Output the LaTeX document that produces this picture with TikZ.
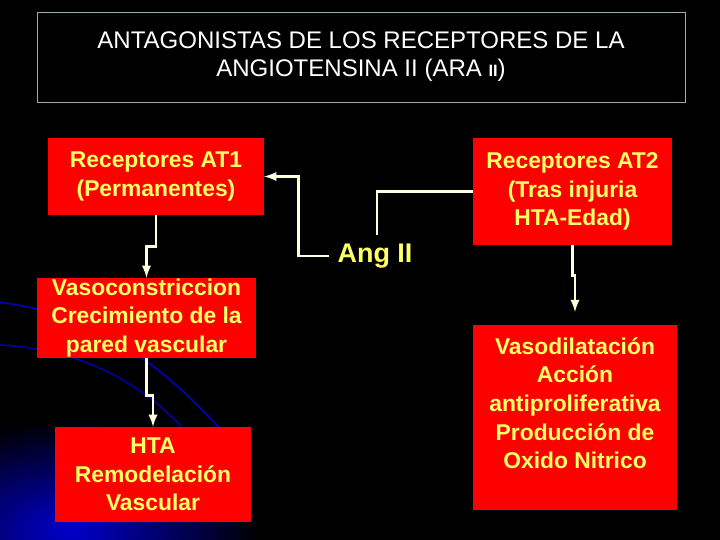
\documentclass[tikz,border=0pt]{standalone}
\usepackage{fontspec}
\setmainfont{Liberation Sans}
\usetikzlibrary{positioning}
\definecolor{txtyellow}{RGB}{255,255,102}
\definecolor{boxred}{RGB}{255,0,0}
\definecolor{linecream}{RGB}{255,255,220}
\definecolor{framegreen}{RGB}{150,180,150}
\begin{document}
\begin{tikzpicture}[x=0.03cm,y=-0.03cm,>=latex,
  redbox/.style={fill=boxred,text=txtyellow,align=center,inner sep=0pt,
    font=\fontsize{19.5}{24.5}\selectfont\bfseries},
  conn/.style={draw=linecream,line width=2.5pt}]
  % background
  \useasboundingbox (0,0) rectangle (720,540);
  \begin{scope}
    \clip (0,0) rectangle (720,540);
    \fill[black] (0,0) rectangle (720,540);
    \shade[inner color=blue!80!black,outer color=black] (-120,420) rectangle (260,640);
    \draw[blue!70!black,line width=1.5pt] (-40,300) .. controls (80,300) and (160,360) .. (230,440);
    \draw[blue!60!black,line width=1.5pt] (0,345) .. controls (100,350) and (170,400) .. (215,470);
  \end{scope}
  % nodes
  \node[draw=framegreen,fill=black,text=white,align=center,minimum width=648*0.03cm,
    minimum height=90*0.03cm,font=\fontsize{20.5}{24}\selectfont] (title) at (361,57)
    {ANTAGONISTAS DE LOS RECEPTORES DE LA\\ANGIOTENSINA II (ARA {\fontsize{14}{14}\selectfont\bfseries II})};
  \node[redbox,minimum width=216*0.03cm,minimum height=77*0.03cm] (at1) at (156,176.5)
    {Receptores AT1\\(Permanentes)};
  \node[redbox,minimum width=199*0.03cm,minimum height=107*0.03cm] (at2) at (572.5,191.5)
    {Receptores AT2\\(Tras injuria\\HTA-Edad)};
  \node[text=txtyellow,font=\fontsize{23}{23}\selectfont\bfseries,inner sep=0pt] (ang) at (375,256) {Ang II};
  \node[redbox,minimum width=219*0.03cm,minimum height=80*0.03cm] (vaso) at (146.5,318)
    {Vasoconstriccion\\Crecimiento de la\\pared vascular};
  \node[redbox,minimum width=196*0.03cm,minimum height=95*0.03cm] (hta) at (153,474.5)
    {HTA\\Remodelación\\Vascular};
  \node[redbox,minimum width=204*0.03cm,minimum height=185*0.03cm] (vasod) at (575,417.5)
    {Vasodilatación\\Acción\\antiproliferativa\\Producción de\\Oxido Nitrico\\\mbox{}};
  % connectors
  \draw[conn,->] (ang.west) ++(-8,0) -- ++(-31,0) |- (at1.east);
  \draw[conn] (ang.north) ++(2,-9) |- (at2.west);
  \draw[conn,->] (at1.south) -- ++(0,31) -| (vaso.north);
  \draw[conn,->] (vaso.south) -- ++(0,37) -| (hta.north);
  \draw[conn,->,shorten >=11pt] (at2.south) -- ++(0,30) -| (vasod.north);
\end{tikzpicture}
\end{document}
